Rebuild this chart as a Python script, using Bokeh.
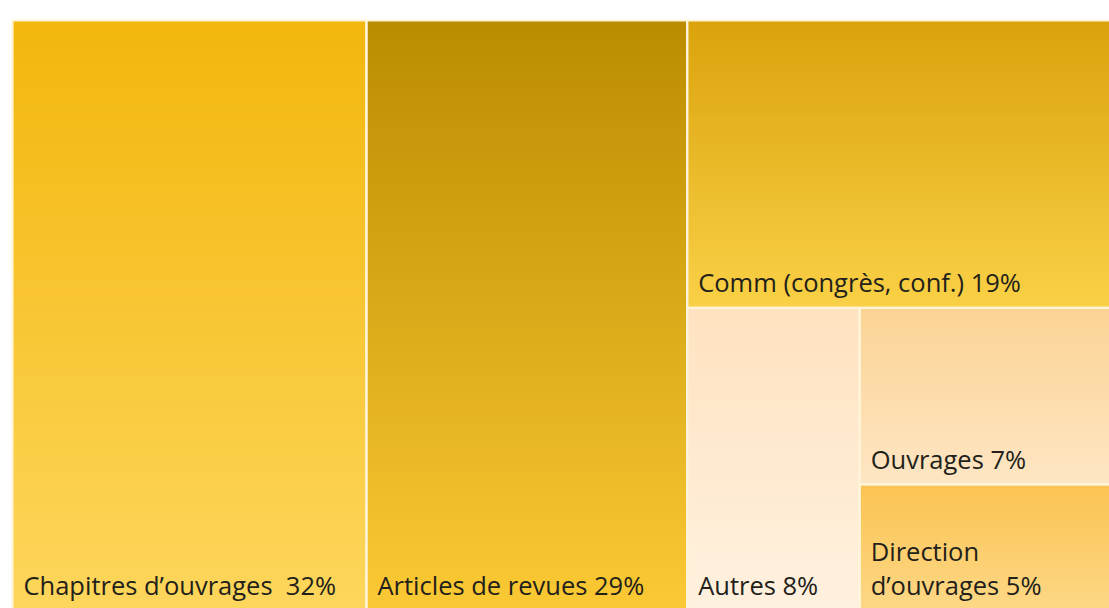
import numpy as np
from bokeh.plotting import figure
from bokeh.models import Range1d, ColumnDataSource
from bokeh.core.properties import value
from bokeh.embed import file_html
from bokeh.resources import INLINE

# ---- data ----
labels = ["Chapitres d\u2019ouvrages  32%", "Articles de revues 29%",
          "Comm (congr\u00e8s, conf.) 19%", "Autres 8%", "Ouvrages 7%",
          "Direction\nd\u2019ouvrages 5%"]
shares = [32, 29, 19, 8, 7, 5]
top_colors = [(243, 183, 12), (188, 140, 0), (218, 163, 12),
              (255, 226, 192), (252, 211, 148), (251, 195, 82)]
bottom_colors = [(253, 214, 92), (251, 201, 52), (250, 208, 70),
                 (255, 241, 223), (253, 230, 196), (253, 216, 135)]

# ---- layout (slice along the longer side, one item at a time) ----
W, H = 1106, 590
Y_TOP = 588


def slice_layout(vals, x0, y0, x1, y1):
    rects = []
    for i, v in enumerate(vals):
        if i == len(vals) - 1:
            rects.append((x0, y0, x1, y1))
            break
        rem = sum(vals[i:])
        f = v / rem
        w, h = x1 - x0, y1 - y0
        if w >= h:
            xm = x0 + w * f
            rects.append((x0, y0, xm, y1))
            x0 = xm
        else:
            ym = y1 - h * f
            rects.append((x0, ym, x1, y1))
            y1 = ym
    return rects


rects = slice_layout(shares, 0, Y_TOP - H, W, Y_TOP)

p = figure(width=1109, height=608, output_backend="svg", toolbar_location=None,
           x_range=Range1d(-12, 1097), y_range=Range1d(0, 608),
           min_border=0, background_fill_color="white")
p.axis.visible = False
p.grid.visible = False
p.outline_line_color = None

N = 256
for (x0, y0, x1, y1), ct, cb in zip(rects, top_colors, bottom_colors):
    t = np.linspace(0, 1, N)[:, None]  # 0 bottom -> 1 top
    ct_a = np.array(ct, dtype=float)
    cb_a = np.array(cb, dtype=float)
    cols = cb_a * (1 - t) + ct_a * t
    img = np.empty((N, 2), dtype=np.uint32)
    view = img.view(dtype=np.uint8).reshape((N, 2, 4))
    view[:, :, 0] = cols[:, 0:1].round().astype(np.uint8)
    view[:, :, 1] = cols[:, 1:2].round().astype(np.uint8)
    view[:, :, 2] = cols[:, 2:3].round().astype(np.uint8)
    view[:, :, 3] = 255
    p.image_rgba(image=[img], x=x0, y=y0, dw=x1 - x0, dh=y1 - y0)

src = ColumnDataSource(dict(
    left=[r[0] for r in rects], bottom=[r[1] for r in rects],
    right=[r[2] for r in rects], top=[r[3] for r in rects]))
p.quad(left="left", right="right", bottom="bottom", top="top", source=src,
       fill_alpha=0, line_color="#FFF4D8", line_width=2.2)

# labels: bottom-left of each cell, one glyph per line
tx, ty, tt = [], [], []
for (x0, y0, x1, y1), lab in zip(rects, labels):
    lines = lab.split("\n")
    for k, line in enumerate(lines):
        tx.append(x0 + 11)
        ty.append(y0 + 25.5 + (len(lines) - 1 - k) * 34)
        tt.append(line.replace("  ", " \u00a0"))
p.text(x=tx, y=ty, text=tt, text_font=value("Open Sans"), text_font_size="25.5px",
       text_baseline="alphabetic", text_align="left", text_color="#231F1A")

open("out.html", "w").write(file_html(p, INLINE))
